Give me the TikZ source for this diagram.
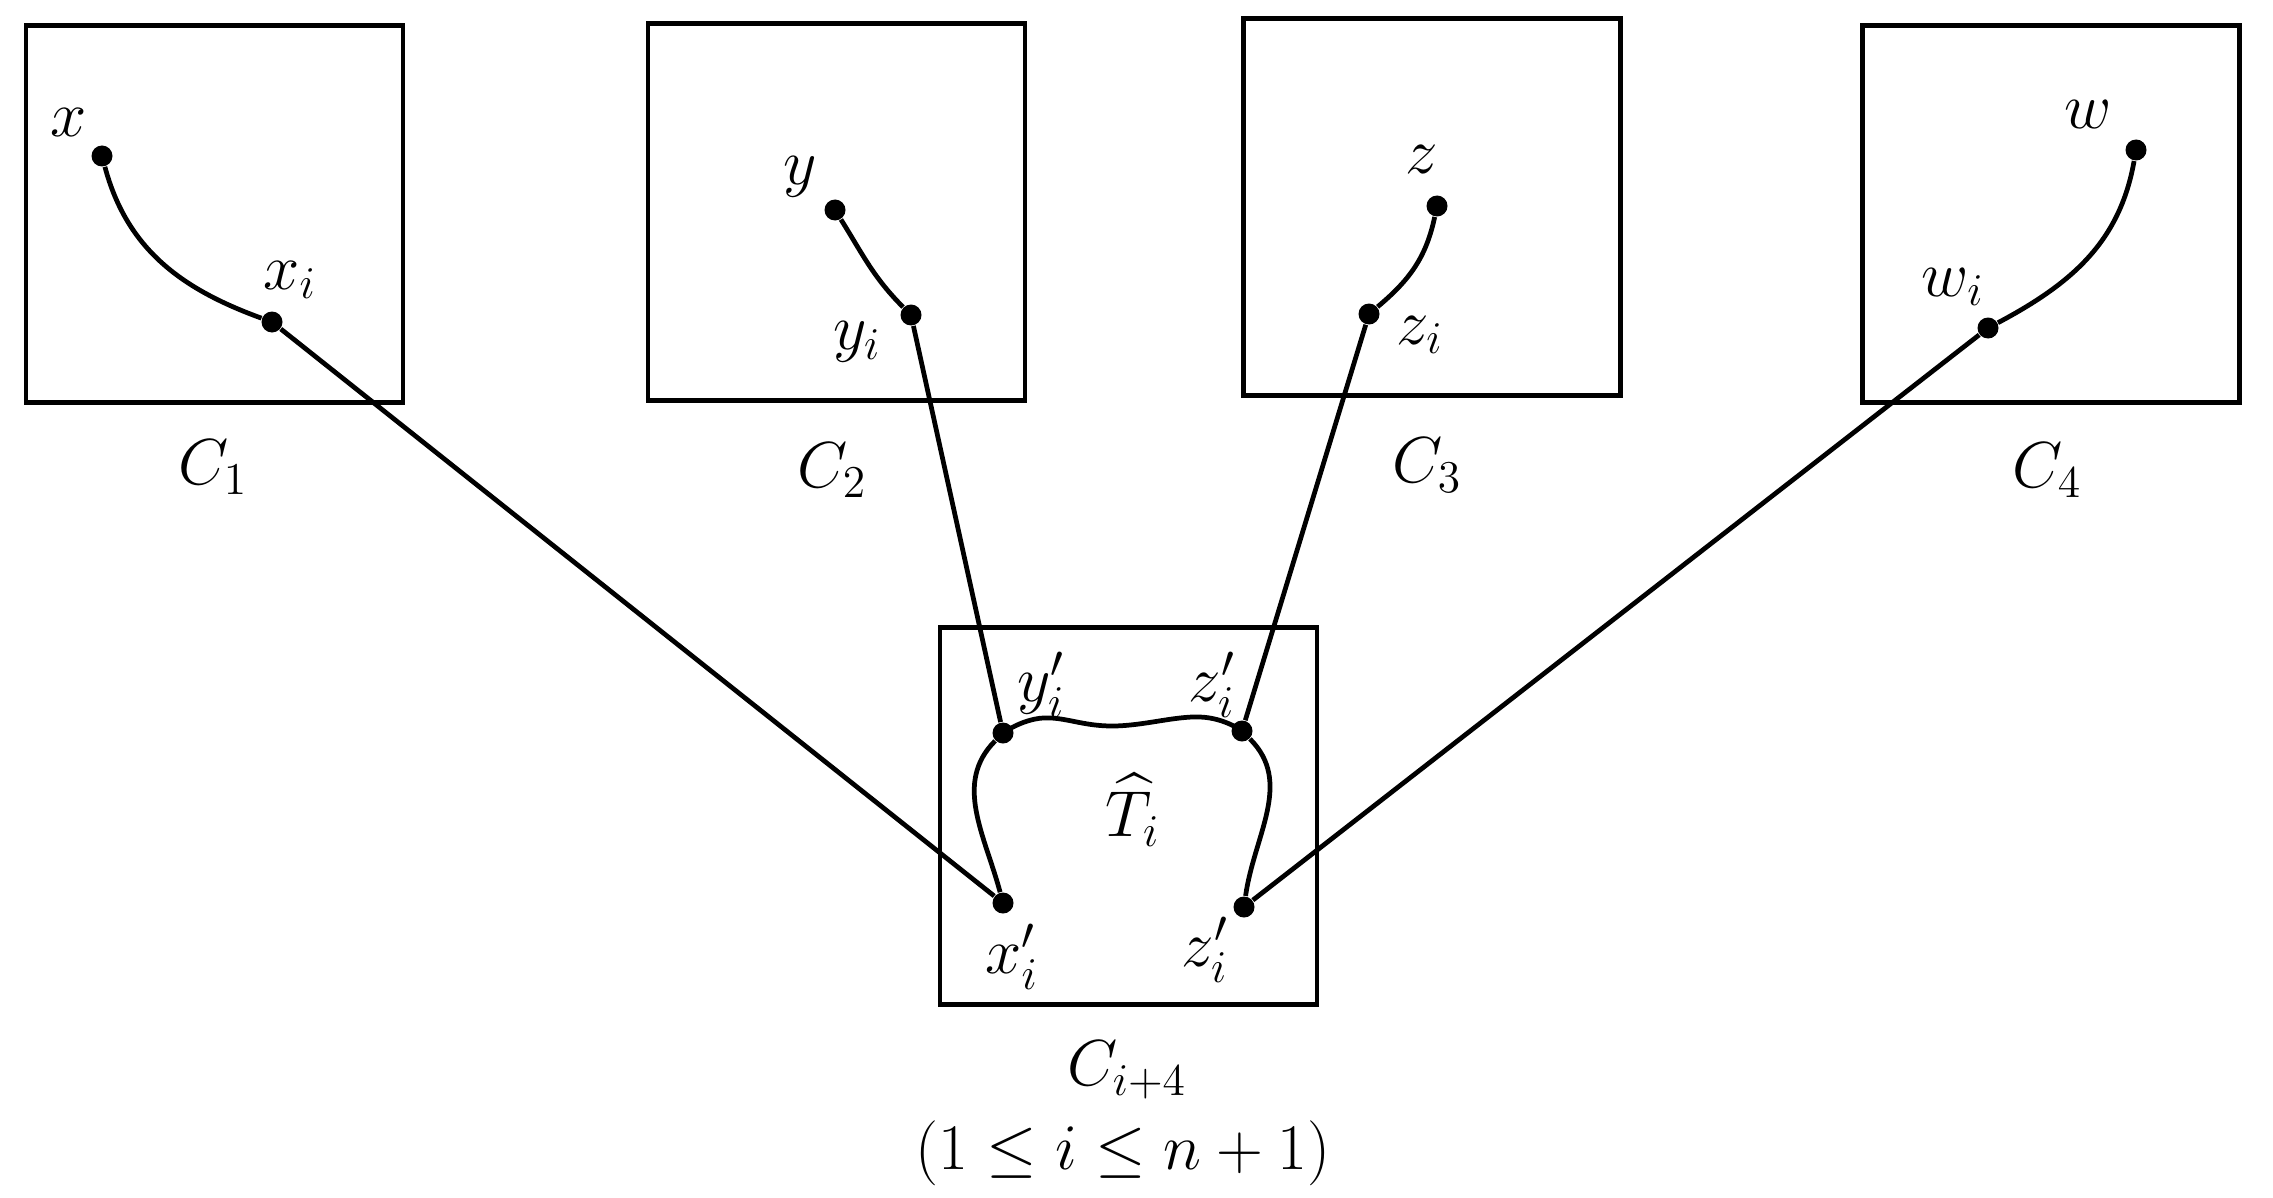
\RequirePackage{fix-cm}
\documentclass[tikz,border=0pt]{standalone}
\usepackage{amsmath,amssymb}
\usetikzlibrary{positioning,calc}
\tikzset{
	compbox/.style={draw,line width=1.4pt,minimum size=3.77cm,inner sep=0pt},
	pnt/.style={circle,fill,inner sep=0pt,minimum size=0.21cm},
	link/.style={line width=1.35pt},
	tag/.style={font=\fontsize{18.5pt}{22pt}\selectfont,inner sep=1pt},
}

\begin{document}
\begin{tikzpicture}
	\useasboundingbox (0,0) rectangle (22.73,11.97);
	
	% the four outer components and the one for T_i
	\node[compbox] (c1) at (2.145,9.83) {};
	\node[compbox] (c2) at (8.365,9.85) {};
	\node[compbox] (c3) at (14.32,9.90) {};
	\node[compbox] (c4) at (20.51,9.83) {};
	\node[compbox] (c5) at (11.285,3.81) {};
	
	\node[tag] (c1lab) at (2.13,7.30) {$C_1$};
	\node[tag] (c2lab) at (8.32,7.27) {$C_2$};
	\node[tag] (c3lab) at (14.27,7.32) {$C_3$};
	\node[tag] (c4lab) at (20.47,7.27) {$C_4$};
	\node[tag] (c5lab) at (11.27,1.27) {$C_{i+4}$};
	\node[tag] (range) at (11.23,0.44) {$(1\leq i\leq n+1)$};
	
	% points in C_1 .. C_4
	\node[pnt] (x) at (1.02,10.41) {};
	\node[pnt] (xi) at (2.72,8.75) {};
	\node[pnt] (y) at (8.35,9.87) {};
	\node[pnt] (yi) at (9.11,8.82) {};
	\node[pnt] (z) at (14.37,9.91) {};
	\node[pnt] (zi) at (13.69,8.83) {};
	\node[pnt] (w) at (21.36,10.47) {};
	\node[pnt] (wi) at (19.88,8.69) {};
	
	\node[tag] (xlab) at (0.69,10.74) {$x$};
	\node[tag] (xilab) at (2.90,9.17) {$x_i$};
	\node[tag] (ylab) at (8.00,10.20) {$y$};
	\node[tag] (yilab) at (8.57,8.55) {$y_i$};
	\node[tag] (zlab) at (14.22,10.37) {$z$};
	\node[tag] (zilab) at (14.20,8.62) {$z_i$};
	\node[tag] (wlab) at (20.88,10.82) {$w$};
	\node[tag] (wilab) at (19.53,9.10) {$w_i$};
	
	% points in C_{i+4}
	\node[pnt] (yp) at (10.03,4.64) {};
	\node[pnt] (zpt) at (12.42,4.66) {};
	\node[pnt] (xp) at (10.03,2.94) {};
	\node[pnt] (zpb) at (12.44,2.90) {};
	
	\node[tag] (yplab) at (10.41,5.12) {$y'_i$};
	\node[tag] (zptlab) at (12.12,5.12) {$z'_i$};
	\node[tag] (xplab) at (10.12,2.40) {$x'_i$};
	\node[tag] (zpblab) at (12.05,2.47) {$z'_i$};
	\node[tag] (tlab) at (11.33,3.87) {$\widehat{T}_i$};
	
	% paths inside the components
	\draw[link] (x) to[out=-75,in=160] (xi);
	\draw[link] (y) to[out=-58,in=135] (yi);
	\draw[link] (zi) to[out=40,in=-102] (z);
	\draw[link] (wi) to[out=28,in=-100] (w);
	
	\coordinate (wa) at (10.43,4.79);
	\coordinate (wb) at (11.13,4.71);
	\coordinate (wc) at (12.00,4.80);
	\draw[link] plot[smooth,tension=0.7] coordinates {(yp) (wa) (wb) (wc) (zpt)};
	\draw[link] (yp) to[out=-135,in=105] (xp);
	\draw[link] (zpt) to[out=-45,in=82] (zpb);
	
	% edges between components
	\draw[link] (xi) -- (xp);
	\draw[link] (yi) -- (yp);
	\draw[link] (zi) -- (zpt);
	\draw[link] (wi) -- (zpb);
	
\end{tikzpicture}
\end{document}
